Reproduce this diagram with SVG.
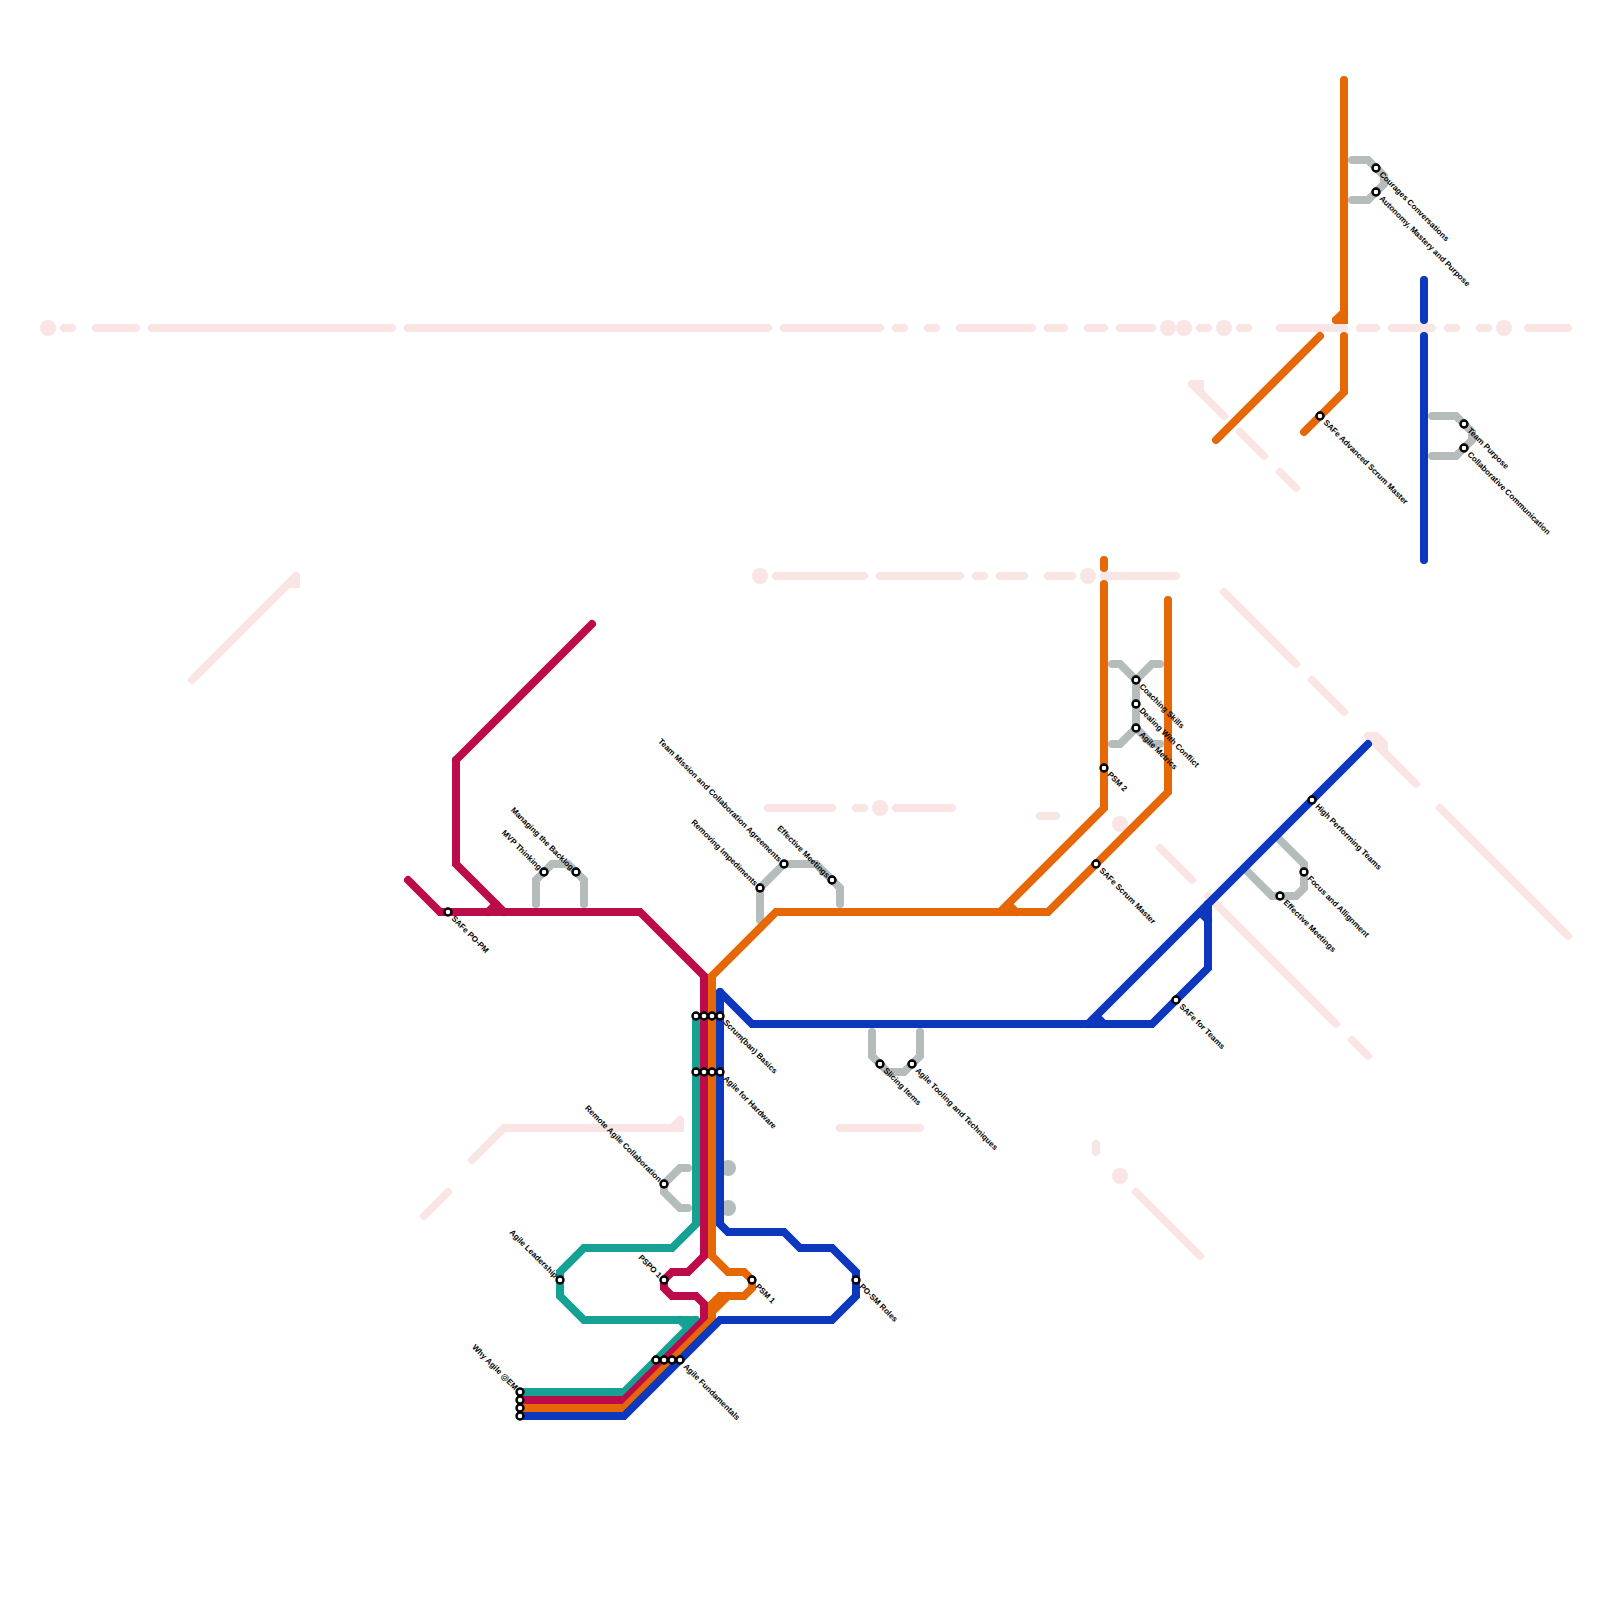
<svg xmlns="http://www.w3.org/2000/svg" width="1600" height="1600" viewBox="0 0 1600 1600">
<style>
.l{fill:none;stroke-width:8;stroke-linecap:round;stroke-linejoin:miter}
.pale{stroke:#fae5e5}.grey{stroke:#b5bcbc}.teal{stroke:#15a193}.crimson{stroke:#bb0b4b}.orange{stroke:#e66705}.blue{stroke:#0d37bc}
.pd{fill:#fae5e5}.gd{fill:#b5bcbc}
.s{fill:#fff;stroke:#000;stroke-width:2.4}
text{font-family:"Liberation Sans",Arial,sans-serif;font-size:8px;font-weight:bold;fill:#000;opacity:.999}
.e{text-anchor:end}
</style>
<rect width="1600" height="1600" fill="#fff"/>
<g id="connectors">
<g id="background-lines">
<path class="l pale" d="M64 328H72M96 328H136M152 328H392M408 328H768M784 328H880M896 328H904M928 328H936M960 328H1032M1048 328H1064M1088 328H1104M1120 328H1152M1200 328H1208M1240 328H1248M1280 328H1344M1360 328H1376M1392 328H1432M1448 328H1456M1480 328H1488M1528 328H1568"/>
<path class="l pale" d="M776 576H864M880 576H960M976 576H984M1000 576H1024M1048 576H1072M1104 576H1176"/>
<path class="l pale" d="M768 808H832M856 808H864M896 808H952M1040 816H1056"/>
<path class="l pale" d="M424 1216L448 1192M472 1160L504 1128H680V1120M680 1120L672 1128M840 1128H920M1096 1144V1152M1136 1192L1200 1256"/>
<path class="l pale" d="M192 680L296 576"/><path class="l pale" d="M296 576V584H288"/>
<path class="l pale" d="M1192 384L1224 416M1240 432L1264 456M1280 472L1296 488"/><path class="l pale" d="M1192 384H1200V392"/>
<path class="l pale" d="M1224 592L1296 664M1312 680L1344 712M1368 736L1416 784M1440 808L1568 936"/><path class="l pale" d="M1368 736H1376L1384 744V752"/>
<path class="l pale" d="M1160 848L1192 880M1208 896L1336 1024M1352 1040L1368 1056"/>
<circle class="pd" cx="48" cy="328" r="8"/><circle class="pd" cx="1168" cy="328" r="8"/><circle class="pd" cx="1184" cy="328" r="8"/><circle class="pd" cx="1224" cy="328" r="8"/><circle class="pd" cx="1504" cy="328" r="8"/>
<circle class="pd" cx="760" cy="576" r="8"/><circle class="pd" cx="1088" cy="576" r="8"/><circle class="pd" cx="880" cy="808" r="8"/><circle class="pd" cx="1120" cy="824" r="8"/><circle class="pd" cx="1120" cy="1176" r="8"/>
</g>
<g id="grey-lines">
<path class="l grey" d="M536 904V880L552 864H568L584 880V904"/>
<path class="l grey" d="M760 920V888L784 864H816L840 888V904"/>
<path class="l grey" d="M688 1168H680L664 1184V1192L680 1208H688"/>
<circle class="gd" cx="728" cy="1168" r="8"/><circle class="gd" cx="728" cy="1208" r="8"/>
<path class="l grey" d="M872 1032V1056L888 1072H904L920 1056V1032"/>
<path class="l grey" d="M1112 664H1120L1136 680L1152 664H1160M1136 680V728L1120 744H1112M1136 728L1152 744H1160"/>
<path class="l grey" d="M1280 840L1304 864V888L1296 896H1272L1248 872"/>
<path class="l grey" d="M1352 160H1368L1384 176V184L1368 200H1352"/>
<path class="l grey" d="M1432 416H1456L1472 432V440L1456 456H1432"/>
</g>
<path class="l teal" d="M520 1392H624L696 1320"/>
<path class="l teal" d="M696 1320H584L560 1296V1272L584 1248H672L696 1224V1016"/>
<path class="l teal" d="M680 1320L688 1328"/>
<path class="l crimson" d="M520 1400H624L704 1320V1304L696 1296H672L664 1288V1280L672 1272H688L704 1256V976L640 912H440L408 880"/>
<path class="l crimson" d="M456 760L592 624"/><path class="l crimson" d="M456 760V864L504 912"/><path class="l crimson" d="M488 912L496 904"/>
<path class="l orange" d="M520 1408H624L712 1320V1304L720 1296H744L752 1288V1280L744 1272H728L712 1256V976L776 912H1048L1168 792V600"/>
<path class="l orange" d="M712 1312L728 1296"/>
<path class="l orange" d="M1000 912L1104 808V584M1008 904L1016 912M1104 560V568"/>
<path class="l orange" d="M1344 80V320H1336"/><path class="l orange" d="M1336 320L1344 312"/>
<path class="l orange" d="M1344 336V392L1304 432M1320 336L1216 440"/>
<path class="l blue" d="M520 1416H624L720 1320H832L856 1296V1272L832 1248H800L784 1232H728L720 1224V992"/>
<path class="l blue" d="M720 992L752 1024H1152L1208 968V904"/>
<path class="l blue" d="M1088 1024L1368 744M1096 1016L1104 1024M1200 912L1208 920"/>
<path class="l blue" d="M1424 280V320M1424 336V560"/>
</g>
<g id="n-why-agile"><circle class="s" cx="520" cy="1392" r="3.5"/><circle class="s" cx="520" cy="1400" r="3.5"/><circle class="s" cx="520" cy="1408" r="3.5"/><circle class="s" cx="520" cy="1416" r="3.5"/><text class="e" transform="translate(520 1392) rotate(45)" x="-5" dy=".35em">Why Agile @EM</text></g>
<g id="n-agile-fundamentals"><circle class="s" cx="656" cy="1360" r="3.5"/><circle class="s" cx="664" cy="1360" r="3.5"/><circle class="s" cx="672" cy="1360" r="3.5"/><circle class="s" cx="680" cy="1360" r="3.5"/><text transform="translate(680 1360) rotate(45)" x="7" dy=".35em">Agile Fundamentals</text></g>
<g id="n-scrum-basics"><circle class="s" cx="696" cy="1016" r="3.5"/><circle class="s" cx="704" cy="1016" r="3.5"/><circle class="s" cx="712" cy="1016" r="3.5"/><circle class="s" cx="720" cy="1016" r="3.5"/><text transform="translate(720 1016) rotate(45)" x="7" dy=".35em">Scrum(ban) Basics</text></g>
<g id="n-agile-hardware"><circle class="s" cx="696" cy="1072" r="3.5"/><circle class="s" cx="704" cy="1072" r="3.5"/><circle class="s" cx="712" cy="1072" r="3.5"/><circle class="s" cx="720" cy="1072" r="3.5"/><text transform="translate(720 1072) rotate(45)" x="7" dy=".35em">Agile for Hardware</text></g>
<g id="n-safe-po-pm"><circle class="s" cx="448" cy="912" r="3.5"/><text transform="translate(448 912) rotate(45)" x="7" dy=".35em">SAFe PO-PM</text></g>
<g id="n-mvp"><circle class="s" cx="544" cy="872" r="3.5"/><text class="e" transform="translate(544 872) rotate(45)" x="-5" dy=".35em">MVP Thinking</text></g>
<g id="n-backlog"><circle class="s" cx="576" cy="872" r="3.5"/><text class="e" transform="translate(576 872) rotate(45)" x="-5" dy=".35em">Managing the Backlog</text></g>
<g id="n-impediments"><circle class="s" cx="760" cy="888" r="3.5"/><text class="e" transform="translate(760 888) rotate(45)" x="-5" dy=".35em">Removing Impediments</text></g>
<g id="n-team-mission"><circle class="s" cx="784" cy="864" r="3.5"/><text class="e" transform="translate(784 864) rotate(45)" x="-5" dy=".35em">Team Mission and Collaboration Agreements</text></g>
<g id="n-meetings-1"><circle class="s" cx="832" cy="880" r="3.5"/><text class="e" transform="translate(832 880) rotate(45)" x="-5" dy=".35em">Effective Meetings</text></g>
<g id="n-remote"><circle class="s" cx="664" cy="1184" r="3.5"/><text class="e" transform="translate(664 1184) rotate(45)" x="-5" dy=".35em">Remote Agile Collaboration</text></g>
<g id="n-leadership"><circle class="s" cx="560" cy="1280" r="3.5"/><text class="e" transform="translate(560 1280) rotate(45)" x="-5" dy=".35em">Agile Leadership</text></g>
<g id="n-pspo1"><circle class="s" cx="664" cy="1280" r="3.5"/><text class="e" transform="translate(664 1280) rotate(45)" x="-5" dy=".35em">PSPO 1</text></g>
<g id="n-psm1"><circle class="s" cx="752" cy="1280" r="3.5"/><text transform="translate(752 1280) rotate(45)" x="7" dy=".35em">PSM 1</text></g>
<g id="n-po-sm"><circle class="s" cx="856" cy="1280" r="3.5"/><text transform="translate(856 1280) rotate(45)" x="7" dy=".35em">PO-SM Roles</text></g>
<g id="n-slicing"><circle class="s" cx="880" cy="1064" r="3.5"/><text transform="translate(880 1064) rotate(45)" x="7" dy=".35em">Slicing Items</text></g>
<g id="n-tooling"><circle class="s" cx="912" cy="1064" r="3.5"/><text transform="translate(912 1064) rotate(45)" x="7" dy=".35em">Agile Tooling and Techniques</text></g>
<g id="n-safe-teams"><circle class="s" cx="1176" cy="1000" r="3.5"/><text transform="translate(1176 1000) rotate(45)" x="7" dy=".35em">SAFe for Teams</text></g>
<g id="n-safe-sm"><circle class="s" cx="1096" cy="864" r="3.5"/><text transform="translate(1096 864) rotate(45)" x="7" dy=".35em">SAFe Scrum Master</text></g>
<g id="n-psm2"><circle class="s" cx="1104" cy="768" r="3.5"/><text transform="translate(1104 768) rotate(45)" x="7" dy=".35em">PSM 2</text></g>
<g id="n-coaching"><circle class="s" cx="1136" cy="680" r="3.5"/><text transform="translate(1136 680) rotate(45)" x="7" dy=".35em">Coaching Skills</text></g>
<g id="n-conflict"><circle class="s" cx="1136" cy="704" r="3.5"/><text transform="translate(1136 704) rotate(45)" x="7" dy=".35em">Dealing With Conflict</text></g>
<g id="n-metrics"><circle class="s" cx="1136" cy="728" r="3.5"/><text transform="translate(1136 728) rotate(45)" x="7" dy=".35em">Agile Metrics</text></g>
<g id="n-high-perf"><circle class="s" cx="1312" cy="800" r="3.5"/><text transform="translate(1312 800) rotate(45)" x="7" dy=".35em">High Performing Teams</text></g>
<g id="n-focus"><circle class="s" cx="1304" cy="872" r="3.5"/><text transform="translate(1304 872) rotate(45)" x="7" dy=".35em">Focus and Allignment</text></g>
<g id="n-meetings-2"><circle class="s" cx="1280" cy="896" r="3.5"/><text transform="translate(1280 896) rotate(45)" x="7" dy=".35em">Effective Meetings</text></g>
<g id="n-courages"><circle class="s" cx="1376" cy="168" r="3.5"/><text transform="translate(1376 168) rotate(45)" x="7" dy=".35em">Courages Conversations</text></g>
<g id="n-autonomy"><circle class="s" cx="1376" cy="192" r="3.5"/><text transform="translate(1376 192) rotate(45)" x="7" dy=".35em">Autonomy, Mastery and Purpose</text></g>
<g id="n-safe-asm"><circle class="s" cx="1320" cy="416" r="3.5"/><text transform="translate(1320 416) rotate(45)" x="7" dy=".35em">SAFe Advanced Scrum Master</text></g>
<g id="n-team-purpose"><circle class="s" cx="1464" cy="424" r="3.5"/><text transform="translate(1464 424) rotate(45)" x="7" dy=".35em">Team Purpose</text></g>
<g id="n-collab"><circle class="s" cx="1464" cy="448" r="3.5"/><text transform="translate(1464 448) rotate(45)" x="7" dy=".35em">Collaborative Communication</text></g>
</svg>
